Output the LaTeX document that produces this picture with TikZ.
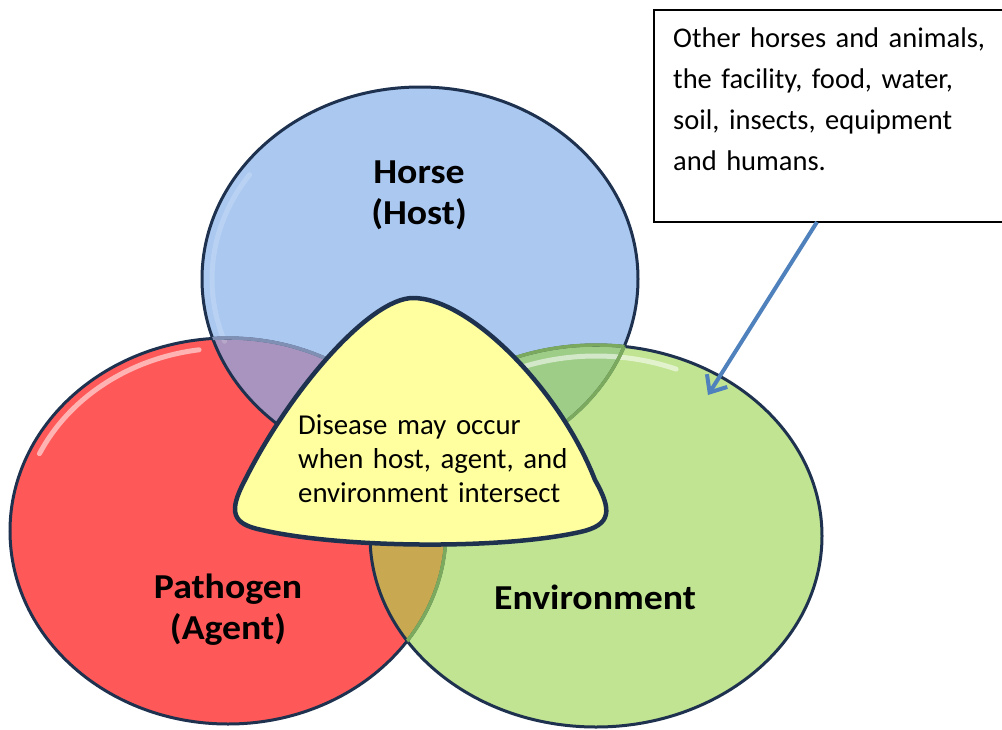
\documentclass[tikz,border=0pt]{standalone}
\usepackage{fontspec}
\usepackage{graphicx}
\setmainfont{Carlito}
\usetikzlibrary{arrows.meta}
\definecolor{hostblue}{HTML}{AAC8F0}
\definecolor{agentred}{HTML}{FF5858}
\definecolor{envgreen}{HTML}{C0E491}
\definecolor{mixpurple}{HTML}{A894BE}
\definecolor{mixteal}{HTML}{9ECD87}
\definecolor{mixolive}{HTML}{C8A850}
\definecolor{coreyellow}{HTML}{FFFFA0}
\definecolor{rim}{HTML}{1E3250}
\definecolor{mutedgreen}{HTML}{7BAA5E}
\definecolor{mutedslate}{HTML}{8090B5}
\definecolor{pointerblue}{HTML}{4F81BD}
\newcommand\hostshape{(420,279) ellipse [x radius=218, y radius=192]}
\newcommand\agentshape{(228,531) ellipse [x radius=218, y radius=193]}
\newcommand\envshape{(596,536) ellipse [x radius=226, y radius=191]}
\newcommand\bigbold{\fontsize{35}{41}\selectfont\bfseries}
\newcommand\widen[1]{\scalebox{1.08}[1]{#1}}
\begin{document}
\begin{tikzpicture}[x=1pt,y=-1pt,
  rimline/.style={draw=rim, line width=3pt},
  mutedline/.style={line width=3.4pt},
  gleam/.style={draw=white, line width=5pt, line cap=round, opacity=0.55},
  biglabel/.style={font=\bigbold, text width=260pt, align=center, inner sep=0pt, anchor=base},
  coretext/.style={font=\fontsize{28.8}{34}\selectfont, text width=330pt, align=left, inner sep=0pt, anchor=base west},
  notetext/.style={font=\fontsize{28.5}{41}\selectfont, text width=330pt, align=left, inner sep=0pt, anchor=base west}]
\useasboundingbox (0,0) rectangle (1002,729);
\fill[white] (0,0) rectangle (1002,729);
% fills
\fill[hostblue] \hostshape;
\fill[agentred] \agentshape;
\fill[envgreen] \envshape;
\begin{scope}\clip \hostshape; \fill[mixpurple] \agentshape; \end{scope}
\begin{scope}\clip \hostshape; \fill[mixteal] \envshape; \end{scope}
\begin{scope}\clip \agentshape; \fill[mixolive] \envshape; \end{scope}
% highlights
\draw[gleam] (228,531) ++(205:208 and 183) arc[start angle=205, end angle=262, x radius=208, y radius=183];
\draw[gleam] (596,536) ++(238:214 and 180) arc[start angle=238, end angle=292, x radius=214, y radius=180];
\draw[gleam, opacity=0.18] (420,279) ++(160:208 and 182) arc[start angle=160, end angle=215, x radius=208, y radius=182];
% outlines
\draw[rimline] \hostshape;
\draw[rimline] \agentshape;
\draw[rimline] \envshape;
\begin{scope}\clip \hostshape; \draw[mutedline, draw=mutedgreen] \envshape; \draw[mutedline, draw=mutedslate] \agentshape; \end{scope}
\begin{scope}\clip \envshape; \draw[mutedline, draw=mutedgreen] \hostshape; \draw[mutedline, draw=mutedgreen] \agentshape; \end{scope}
% central rounded triangle
\draw[fill=coreyellow, draw=rim, line width=4.5pt, line join=round]
  (413,298) .. controls (370,298) and (290,390) .. (245,480)
  .. controls (228,512) and (232,524) .. (262,530)
  .. controls (340,548) and (500,550) .. (580,532)
  .. controls (612,525) and (612,510) .. (595,480)
  .. controls (560,390) and (470,298) .. (413,298) -- cycle;
% labels
\node[biglabel] (host) at (419,183) {\widen{Horse}\\\widen{(Host)}};
\node[biglabel] (agent) at (228,598) {\widen{Pathogen}\\\widen{(Agent)}};
\node[biglabel] (env) at (595,609) {\widen{Environment}};
\node[coretext] (core) at (298,434) {Disease may occur\\when host, agent, and\\environment intersect};
% callout
\node[draw=black, line width=2pt, minimum width=352pt, minimum height=212pt, inner sep=0pt, anchor=north west] (note) at (653,9) {};
\node[notetext] (notetxt) at (673,47) {Other horses and animals,\\the facility, food, water,\\soil, insects, equipment\\and humans.};
\coordinate (pointtail) at (817,222);
\coordinate (pointtip) at (708,395);
\draw[pointerblue, line width=4pt, -{Straight Barb[length=14pt, width=24pt, line width=4pt]}] (pointtail) -- (pointtip);
\end{tikzpicture}
\end{document}
